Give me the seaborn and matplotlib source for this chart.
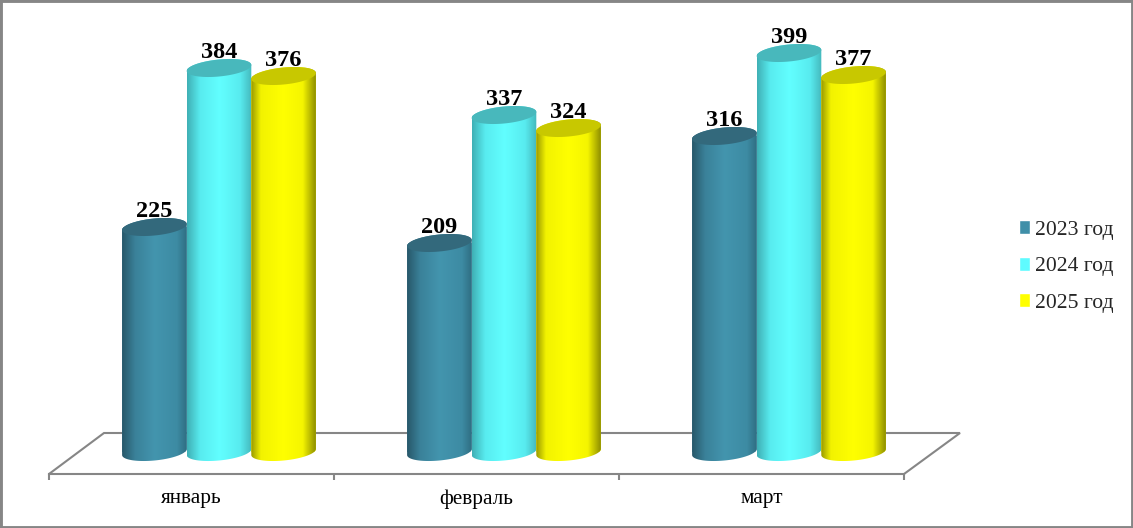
import numpy as np
import pandas as pd
import matplotlib
matplotlib.use('Agg')
import matplotlib.pyplot as plt
from matplotlib.colors import LinearSegmentedColormap
from matplotlib.path import Path
from matplotlib.patches import PathPatch, Rectangle
import seaborn as sns

months = ['январь', 'февраль', 'март']
years = ['2023 год', '2024 год', '2025 год']
values_2023 = [225, 209, 316]
values_2024 = [384, 337, 399]
values_2025 = [376, 324, 377]

bar_colors = ['#3f8fa8', '#5ffbff', '#ffff00']
top_colors = ['#33697c', '#48b8bc', '#c8c800']
side_gradients = [
    [(0, '#28586a'), (0.2, '#3a8199'), (0.5, '#4395ae'), (0.85, '#3d8ba3'), (1, '#2f6e82')],
    [(0, '#3fb0b5'), (0.2, '#58ebef'), (0.5, '#62ffff'), (0.82, '#58ebef'), (1, '#44b8bc')],
    [(0, '#9a9a00'), (0.15, '#f2f200'), (0.5, '#ffff00'), (0.8, '#f5f500'), (1, '#8f8f00')],
]

GREY = '#868686'
PX_PER_CAT = 285.0
ZERO_PX = 452.0   # pixel row of value 0
FIRST_CAT_PX = 219.0
ELL_B = 8.5       # ellipse half height, in value units
ELL_K = 3.0       # ellipse tilt

df = pd.DataFrame({
    'month': months * 3,
    'year': np.repeat(years, 3),
    'value': values_2023 + values_2024 + values_2025,
})

sns.set_theme(style='white')
plt.rcParams['font.family'] = ['Liberation Serif', 'DejaVu Serif']

fig = plt.figure(figsize=(11.33, 5.28), dpi=100)
ax = fig.add_axes([0, 0, 1, 1])
ax.patch.set_alpha(0)

sns.barplot(data=df, x='month', y='value', hue='year', palette=bar_colors,
            width=0.68, gap=0, saturation=1, ax=ax)

# one value unit is one pixel, one category is 285 pixels
xlim = (-FIRST_CAT_PX / PX_PER_CAT, (1133 - FIRST_CAT_PX) / PX_PER_CAT)
ylim = (ZERO_PX - 528, ZERO_PX)


def floor_x(px):
    return (px - FIRST_CAT_PX) / PX_PER_CAT


def ellipse(cx, cy, a, t):
    return np.column_stack([cx + a * np.cos(t), cy + ELL_B * np.sin(t) + ELL_K * np.cos(t)])


for i, container in enumerate(ax.containers):
    cmap = LinearSegmentedColormap.from_list('side%d' % i, side_gradients[i])
    zo = 3 + i
    for patch in container:
        a = patch.get_width() / 2
        cx = patch.get_x() + a
        top = patch.get_height()
        lower = ellipse(cx, 0, a, np.linspace(np.pi, 2 * np.pi, 60))
        upper = ellipse(cx, top, a, np.linspace(0, np.pi, 60))
        body = Path(np.vstack([lower, upper, lower[:1]]), closed=True)
        clip = PathPatch(body, transform=ax.transData, fc='none', ec='none')
        ax.add_patch(clip)
        patch.set_zorder(zo)
        patch.set_linewidth(0)
        patch.set_clip_path(clip)
        im = ax.imshow(np.linspace(0, 1, 128).reshape(1, -1), cmap=cmap, aspect='auto',
                       extent=(cx - a, cx + a, -ELL_B - ELL_K - 2, top + ELL_B + ELL_K + 2),
                       interpolation='bilinear', zorder=zo)
        im.set_clip_path(clip)
        cap = ellipse(cx, top, a, np.linspace(0, 2 * np.pi, 120))
        ax.add_patch(PathPatch(Path(cap, closed=True), fc=top_colors[i], ec='none', zorder=zo))
    ax.bar_label(container, fontsize=17.5, fontweight='bold', color='black', padding=3.5)
    for txt in ax.texts:
        txt.set_zorder(10)

# floor of the 3d box
ax.plot([floor_x(49), floor_x(104), floor_x(960), floor_x(904)],
        [ZERO_PX - 474, ZERO_PX - 433, ZERO_PX - 433, ZERO_PX - 474],
        color=GREY, lw=1.5, zorder=1, solid_joinstyle='miter')

for s in ['left', 'right', 'top']:
    ax.spines[s].set_visible(False)
ax.spines['bottom'].set_position(('data', ZERO_PX - 474))
ax.spines['bottom'].set_bounds(floor_x(49), floor_x(904))
ax.spines['bottom'].set_color(GREY)
ax.spines['bottom'].set_linewidth(1.5)

ax.set_xticks([floor_x(49 + 285 * k) for k in range(4)])
ax.set_xticklabels([])
ax.set_xticks([floor_x(49 + 142.5 + 285 * k) for k in range(3)], minor=True)
ax.set_xticklabels(months, minor=True, fontsize=15.3, color='black')
ax.tick_params(axis='x', which='major', length=4.5, width=1.5, color=GREY, bottom=True)
ax.tick_params(axis='x', which='minor', length=0, pad=11, bottom=True)
ax.set_yticks([])
ax.set_xlabel('')
ax.set_ylabel('')
ax.set_xlim(xlim)
ax.set_ylim(ylim)

handles, labels = ax.get_legend_handles_labels()
ax.legend(handles, labels, frameon=False, loc='center left',
          bbox_to_anchor=(1019 / 1133, 1 - 266.5 / 528), fontsize=15.6,
          handlelength=0.52, handleheight=0.6, handletextpad=0.2,
          labelspacing=0.78, borderpad=0, borderaxespad=0)

# outer chart frame
fig.add_artist(Rectangle((0, 0), 1, 1, transform=fig.transFigure, fc='none', ec=GREY, lw=3.5))

fig.savefig('out.png', dpi=100)
